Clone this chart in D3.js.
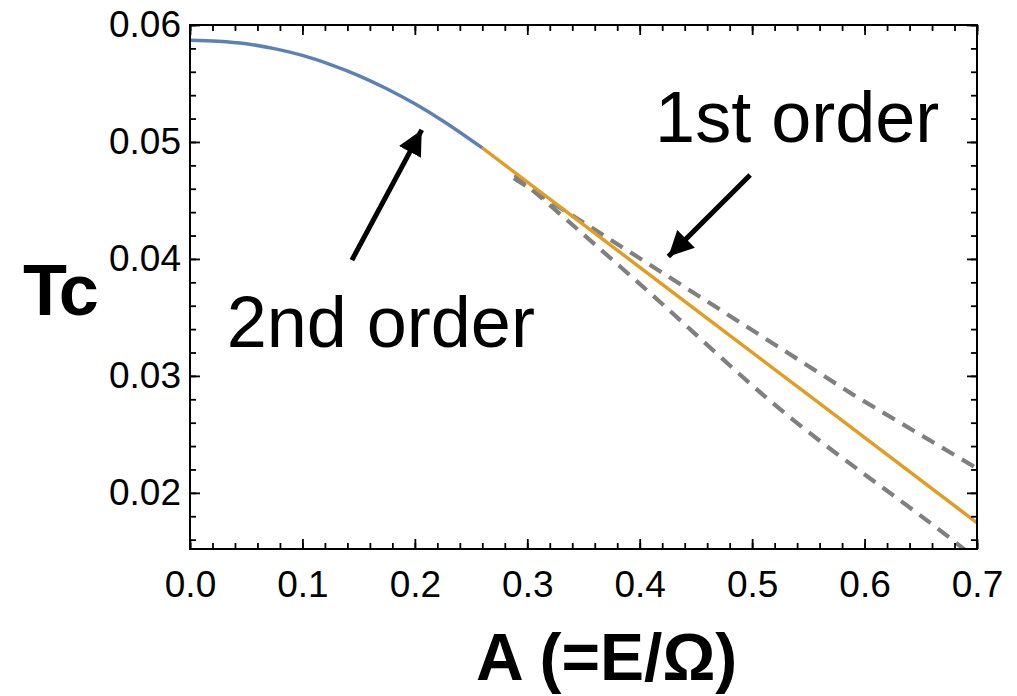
<!DOCTYPE html>
<html>
<head>
<meta charset="utf-8">
<script src="https://cdn.jsdelivr.net/npm/d3@7"></script>
<style>
  body { margin: 0; background: #fff; }
  text { font-family: "Liberation Sans", Arial, Helvetica, sans-serif; }
</style>
</head>
<body>
<div id="chart"></div>
<script>
// second order curve (blue)
var secondA  = [0, 0.025, 0.05, 0.075, 0.1, 0.125, 0.15, 0.175, 0.2, 0.225, 0.26];
var secondTc = [0.0587, 0.05862, 0.0584, 0.05798, 0.0574, 0.05662, 0.05568, 0.05455, 0.05326, 0.0518, 0.04949];
// first order line (orange)
var firstA  = [0.26, 0.35, 0.45, 0.55, 0.7];
var firstTc = [0.04949, 0.04293, 0.03565, 0.02837, 0.01744];
// dashed guide lines (gray)
var upperA  = [0.288, 0.409, 0.593, 0.7];
var upperTc = [0.0469, 0.0395, 0.0282, 0.0221];
var lowerA  = [0.289, 0.409, 0.518, 0.687, 0.7];
var lowerTc = [0.0472, 0.0371, 0.0277, 0.0153, 0.0143];

var xTicks = [0, 0.1, 0.2, 0.3, 0.4, 0.5, 0.6, 0.7];
var yTicks = [0.02, 0.03, 0.04, 0.05, 0.06];
var xDomain = [0, 0.7];
var yDomain = [0.0152, 0.06];

// annotations, in data units
var arrows = [
    { from: [0.144, 0.0399], to: [0.2061, 0.05103] },
    { from: [0.4982, 0.04718], to: [0.4255, 0.0402] }
];
var notes = [
    { text: "2nd order", at: [0.0326, 0.0325] },
    { text: "1st order", at: [0.4137, 0.05003] }
];

function makeChart() {
    var width = 1017, height = 696;
    var mLeft = 190, mRight = 977, mTop = 25, mBottom = 549;

    var svg = d3.select("#chart").append("svg").attr("width", width).attr("height", height);

    var x = d3.scaleLinear().domain(xDomain).range([mLeft, mRight]);
    var y = d3.scaleLinear().domain(yDomain).range([mBottom, mTop]);

    function zip(a, b) {
        return a.map(function(v, i) { return [v, b[i]]; });
    }

    var defs = svg.append("defs");
    defs.append("clipPath").attr("id", "plotclip")
        .append("rect").attr("x", mLeft).attr("y", mTop - 2)
        .attr("width", mRight - mLeft + 2).attr("height", mBottom - mTop + 2);

    var line = d3.line().x(function(d) { return x(d[0]); }).y(function(d) { return y(d[1]); });
    var curve = d3.line().curve(d3.curveMonotoneX).x(function(d) { return x(d[0]); }).y(function(d) { return y(d[1]); });

    var plot = svg.append("g").attr("clip-path", "url(#plotclip)");

    plot.append("path").datum(zip(upperA, upperTc)).attr("d", line)
        .attr("fill", "none").attr("stroke", "#808080").attr("stroke-width", 4.2).attr("stroke-dasharray", "14,9");
    plot.append("path").datum(zip(lowerA, lowerTc)).attr("d", curve)
        .attr("fill", "none").attr("stroke", "#808080").attr("stroke-width", 4.2).attr("stroke-dasharray", "14,9");
    plot.append("path").datum(zip(firstA, firstTc)).attr("d", line)
        .attr("fill", "none").attr("stroke", "#E29D24").attr("stroke-width", 3.5);
    plot.append("path").datum(zip(secondA, secondTc)).attr("d", curve)
        .attr("fill", "none").attr("stroke", "#5E81B5").attr("stroke-width", 3.5);

    // axes: ticks point inward on all four sides
    var xMinor = d3.range(0, 0.7001, 0.02);
    var yMinor = d3.range(0.016, 0.0601, 0.002);

    function styleAxis(g) {
        g.select(".domain").remove();
        g.selectAll("line").attr("stroke", "#000").attr("stroke-width", 1.8);
        g.selectAll("text").attr("font-size", 37).attr("fill", "#000")
            .attr("font-family", "'Liberation Sans', Arial, Helvetica, sans-serif");
    }

    svg.append("g").attr("transform", "translate(0," + mBottom + ")")
        .call(d3.axisBottom(x).tickValues(xMinor).tickSize(-6).tickFormat("")).call(styleAxis);
    svg.append("g").attr("transform", "translate(0," + mBottom + ")")
        .call(d3.axisBottom(x).tickValues(xTicks).tickSize(-10).tickPadding(22).tickFormat(d3.format(".1f")))
        .call(styleAxis);
    svg.append("g").attr("transform", "translate(0," + mTop + ")")
        .call(d3.axisTop(x).tickValues(xMinor).tickSize(-6).tickFormat("")).call(styleAxis);
    svg.append("g").attr("transform", "translate(0," + mTop + ")")
        .call(d3.axisTop(x).tickValues(xTicks).tickSize(-10).tickFormat("")).call(styleAxis);

    svg.append("g").attr("transform", "translate(" + mLeft + ",0)")
        .call(d3.axisLeft(y).tickValues(yMinor).tickSize(-6).tickFormat("")).call(styleAxis);
    svg.append("g").attr("transform", "translate(" + mLeft + ",0)")
        .call(d3.axisLeft(y).tickValues(yTicks).tickSize(-10).tickPadding(9).tickFormat(d3.format(".2f")))
        .call(styleAxis);
    svg.append("g").attr("transform", "translate(" + mRight + ",0)")
        .call(d3.axisRight(y).tickValues(yMinor).tickSize(-6).tickFormat("")).call(styleAxis);
    svg.append("g").attr("transform", "translate(" + mRight + ",0)")
        .call(d3.axisRight(y).tickValues(yTicks).tickSize(-10).tickFormat("")).call(styleAxis);

    // frame
    svg.append("rect").attr("x", mLeft).attr("y", mTop).attr("width", mRight - mLeft).attr("height", mBottom - mTop)
        .attr("fill", "none").attr("stroke", "#000").attr("stroke-width", 2);

    // axis titles
    svg.append("text").attr("x", 23).attr("y", 315).attr("font-size", 72).attr("font-weight", "bold")
        .attr("letter-spacing", -3).text("Tc");
    svg.append("text").attr("x", 476).attr("y", 680).attr("font-size", 66).attr("font-weight", "bold")
        .text("A (=E/\u03A9)");

    // annotations
    svg.selectAll(".note").data(notes).enter().append("text").attr("class", "note")
        .attr("x", function(d) { return x(d.at[0]); })
        .attr("y", function(d) { return y(d.at[1]); })
        .attr("font-size", 72).text(function(d) { return d.text; });

    defs.append("marker").attr("id", "head")
        .attr("viewBox", "0 0 10 10").attr("refX", 10).attr("refY", 5)
        .attr("markerWidth", 5).attr("markerHeight", 5).attr("markerUnits", "strokeWidth")
        .attr("orient", "auto")
        .append("path").attr("d", "M0,0 L10,5 L0,10 Z").attr("fill", "#000");

    svg.selectAll(".arrow").data(arrows).enter().append("line").attr("class", "arrow")
        .attr("x1", function(d) { return x(d.from[0]); })
        .attr("y1", function(d) { return y(d.from[1]); })
        .attr("x2", function(d) { return x(d.to[0]); })
        .attr("y2", function(d) { return y(d.to[1]); })
        .attr("stroke", "#000").attr("stroke-width", 5)
        .attr("marker-end", "url(#head)");
}

makeChart();
</script>
</body>
</html>
